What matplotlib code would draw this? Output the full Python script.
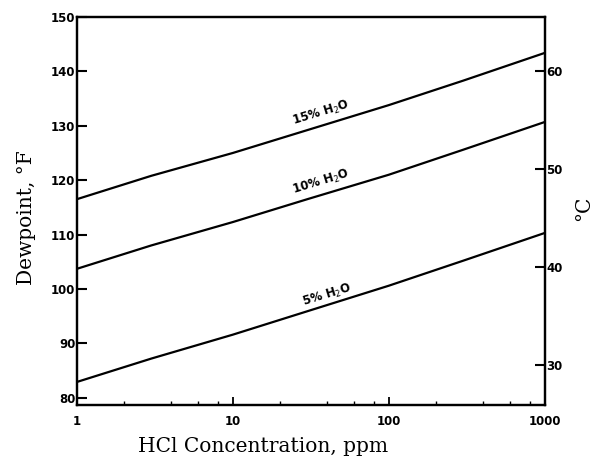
import numpy as np
import matplotlib
matplotlib.use("Agg")
import matplotlib.pyplot as plt
from matplotlib.ticker import FixedLocator, NullFormatter

hcl_ppm = [1, 3, 10, 30, 100, 300, 1000]
dew_15 = [116.5, 120.8, 125.0, 129.2, 133.8, 138.3, 143.4]
dew_10 = [103.7, 108.0, 112.3, 116.5, 121.0, 125.6, 130.7]
dew_5 = [82.9, 87.2, 91.6, 95.9, 100.6, 105.2, 110.3]
series_labels = ["15% H$_2$O", "10% H$_2$O", "5% H$_2$O"]
label_pos = [(37, 132.4), (37, 119.7), (40, 98.9)]

x_ticks = [1, 10, 100, 1000]
x_ticklabels = ["1", "10", "100", "1000"]
f_ticks = [80, 90, 100, 110, 120, 130, 140, 150]
c_ticks = [30, 40, 50, 60]

fig = plt.figure(figsize=(6.0, 4.59), dpi=100)
ax = fig.add_axes([0.128, 0.118, 0.78, 0.845])

for ys in (dew_15, dew_10, dew_5):
    ax.plot(hcl_ppm, ys, color="black", lw=1.6, solid_capstyle="butt")

ax.set_xscale("log")
ax.set_xlim(1, 1000)
ax.set_ylim(78.7, 150)

ax.xaxis.set_major_locator(FixedLocator(x_ticks))
ax.set_xticklabels(x_ticklabels)
ax.xaxis.set_minor_locator(FixedLocator([2, 4, 6, 8, 20, 40, 60, 80, 200, 400, 600, 800]))
ax.xaxis.set_minor_formatter(NullFormatter())
ax.set_yticks(f_ticks)
ax.set_yticklabels([str(t) for t in f_ticks])

for lab in ax.get_xticklabels() + ax.get_yticklabels():
    lab.set_fontfamily("DejaVu Sans")
    lab.set_fontweight("bold")
    lab.set_fontsize(8.5)

ax.tick_params(axis="y", which="major", direction="in", length=7, width=1.5, pad=1)
ax.tick_params(axis="x", which="major", direction="in", length=6, width=1.3, pad=7)
ax.tick_params(axis="x", which="minor", direction="in", length=3, width=1.0)
ax.tick_params(top=False, right=False)

for sp in ax.spines.values():
    sp.set_linewidth(1.6)

fig.text(263 / 600, 1 - 446 / 459, "HCl Concentration, ppm", family="DejaVu Serif",
         fontsize=14.5, ha="center", va="center")
fig.text(27 / 600, 1 - 218 / 459, "Dewpoint, °F", family="DejaVu Serif",
         fontsize=14.5, ha="center", va="center", rotation=90)

ax2 = ax.twinx()
lo, hi = ax.get_ylim()
ax2.set_ylim((lo - 32) * 5 / 9, (hi - 32) * 5 / 9)
ax2.set_yticks(c_ticks)
ax2.set_yticklabels([str(t) for t in c_ticks])
for lab in ax2.get_yticklabels():
    lab.set_fontfamily("DejaVu Sans")
    lab.set_fontweight("bold")
    lab.set_fontsize(8.5)
ax2.tick_params(axis="y", direction="in", length=7, width=1.5, pad=1)
for sp in ax2.spines.values():
    sp.set_linewidth(1.6)
fig.text(584 / 600, 1 - 208 / 459, "°C", family="DejaVu Serif",
         fontsize=14.5, ha="center", va="center", rotation=90)

for text, (xp, yp) in zip(series_labels, label_pos):
    ax.text(xp, yp, text, rotation=17, ha="center", va="center",
            fontsize=8.5, fontweight="bold", family="DejaVu Sans")

fig.savefig("out.png", dpi=100)
